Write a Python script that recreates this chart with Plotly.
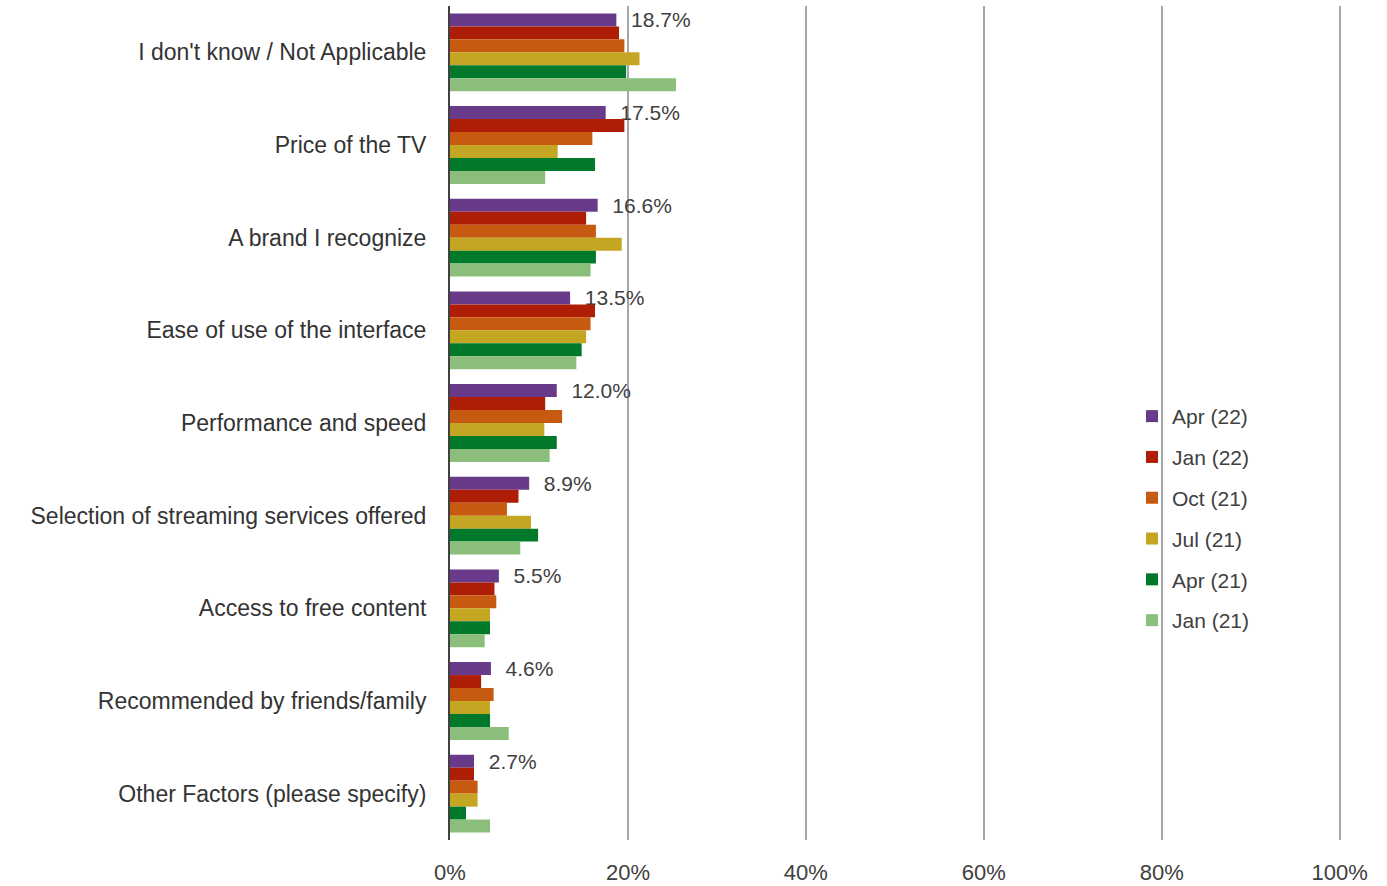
import plotly.graph_objects as go

categories = [
    "I don't know / Not Applicable",
    "Price of the TV",
    "A brand I recognize",
    "Ease of use of the interface",
    "Performance and speed",
    "Selection of streaming services offered",
    "Access to free content",
    "Recommended by friends/family",
    "Other Factors (please specify)",
]

series_names = ["Apr (22)", "Jan (22)", "Oct (21)", "Jul (21)", "Apr (21)", "Jan (21)"]

apr22 = [18.7, 17.5, 16.6, 13.5, 12.0, 8.9, 5.5, 4.6, 2.7]
jan22 = [19.0, 19.6, 15.3, 16.3, 10.7, 7.7, 5.0, 3.5, 2.7]
oct21 = [19.6, 16.0, 16.4, 15.8, 12.6, 6.4, 5.2, 4.9, 3.1]
jul21 = [21.3, 12.1, 19.3, 15.3, 10.6, 9.1, 4.5, 4.5, 3.1]
apr21 = [19.8, 16.3, 16.4, 14.8, 12.0, 9.9, 4.5, 4.5, 1.8]
jan21 = [25.4, 10.7, 15.8, 14.2, 11.2, 7.9, 3.9, 6.6, 4.5]

tick_values = [0, 20, 40, 60, 80, 100]
tick_labels = ["0%", "20%", "40%", "60%", "80%", "100%"]

series_values = [apr22, jan22, oct21, jul21, apr21, jan21]
colors = ["#6A3A8A", "#AE1E07", "#C55A10", "#C4A623", "#00792B", "#8BBE7A"]

FONT = "Liberation Sans, Arial, sans-serif"
TEXT = "#404040"

fig = go.Figure()
for i, (name, vals, col) in enumerate(zip(series_names, series_values, colors)):
    kw = {}
    if i == 0:
        kw = dict(
            text=[f"{v:.1f}%" for v in vals],
            texttemplate="  %{text}",
            textposition="outside",
            constraintext="none",
            cliponaxis=False,
            textfont=dict(size=21, color=TEXT, family=FONT),
        )
    fig.add_trace(go.Bar(
        y=categories, x=vals, name=name, orientation="h",
        marker=dict(color=col, line=dict(width=0)),
        legendgroup=name,
        hoverinfo="x+name",
        **kw,
    ))

fig.update_layout(
    width=1387, height=886,
    margin=dict(l=450, r=42, t=6, b=46, autoexpand=False),
    paper_bgcolor="white", plot_bgcolor="white",
    barmode="group", bargap=0.16, bargroupgap=0,
    font=dict(family=FONT, color=TEXT, size=21),
    showlegend=True,
    legend=dict(
        x=0.762, y=0.3855, xanchor="left", yanchor="middle",
        bgcolor="rgba(0,0,0,0)", font=dict(size=21, color=TEXT, family=FONT),
        tracegroupgap=10.5, traceorder="grouped",
    ),
    xaxis=dict(
        range=[0, 100.6], tickvals=tick_values, ticktext=tick_labels,
        showgrid=True, gridcolor="#A6A6A6", gridwidth=2,
        zeroline=False, showline=False, ticks="", automargin=False,
        tickfont=dict(size=22, color=TEXT, family=FONT),
        ticklabelstandoff=17,
    ),
    yaxis=dict(
        type="category", autorange="reversed",
        showline=True, linecolor="#404040", linewidth=2,
        showgrid=False, zeroline=False, ticks="", automargin=False,
        tickfont=dict(size=23, color="#333333", family=FONT),
        ticklabelstandoff=17,
    ),
)

fig.write_html(
    "out.html",
    config={"displayModeBar": False},
    post_script="document.body.style.margin='0';",
)
